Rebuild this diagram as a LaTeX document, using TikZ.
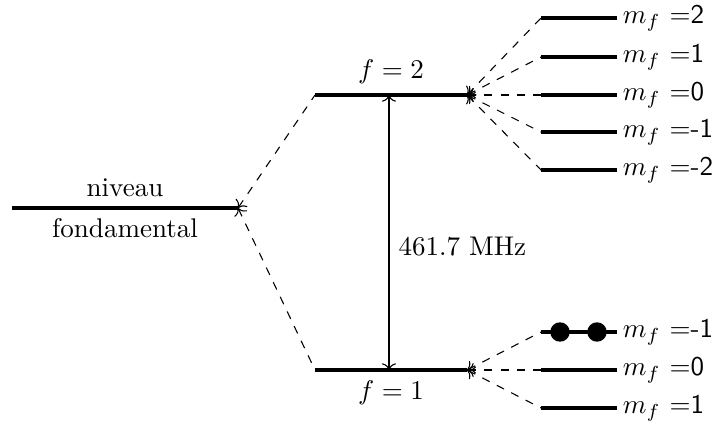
\documentclass[tikz,border=0pt]{standalone}
\usetikzlibrary{arrows.meta}

\tikzset{
    niveau/.style={line width=1.3pt},
    lien/.style={dashed, thin, <-},
    etiq/.style={right, inner sep=1.5pt},
    boule/.style={circle, fill, inner sep=0pt, minimum size=7.2pt}
}

\begin{document}
\begin{tikzpicture}[x=0.37pt, y=-0.37pt]
    \useasboundingbox (0,0) rectangle (713,447);
    \path coordinate (fondG) at (12,208)
        coordinate (fondD) at (238,208)
        coordinate (f2G) at (315,95)
        coordinate (f2D) at (467,95)
        coordinate (f1G) at (315,370)
        coordinate (f1D) at (467,370)
        coordinate (flecheH) at (389,95)
        coordinate (flecheB) at (389,370);
    % niveau fondamental et f=2, f=1
    \draw[niveau] (fondG) -- node[above] {niveau} node[below] {fondamental} (fondD);
    \draw[niveau] (f2G) -- node[above] {$f=2$} (f2D);
    \draw[niveau] (f1G) -- node[below] {$f=1$} (f1D);
    \draw[lien] (fondD) -- (f2G);
    \draw[lien] (fondD) -- (f1G);
    \draw[<->] (flecheB) -- node[pos=0.45, right] {461.7 MHz} (flecheH);
    % sous-niveaux de f=2
    \foreach \m/\y [count=\i] in {2/18, 1/57, 0/95, -1/132, -2/170} {
        \path coordinate (hG\i) at (541,\y) coordinate (hD\i) at (617,\y);
        \draw[niveau] (hG\i) -- (hD\i) node[etiq] {$m_f$ =\textsf{\m}};
        \draw[lien] (f2D) -- (hG\i);
    }
    % sous-niveaux de f=1
    \foreach \m/\y [count=\i] in {-1/332, 0/370, 1/408} {
        \path coordinate (bG\i) at (541,\y) coordinate (bD\i) at (617,\y);
        \draw[niveau] (bG\i) -- (bD\i) node[etiq] {$m_f$ =\textsf{\m}};
        \draw[lien] (f1D) -- (bG\i);
    }
    \path node[boule] (atomeA) at (560,332) {}
        node[boule] (atomeB) at (597,332) {};
\end{tikzpicture}
\end{document}
